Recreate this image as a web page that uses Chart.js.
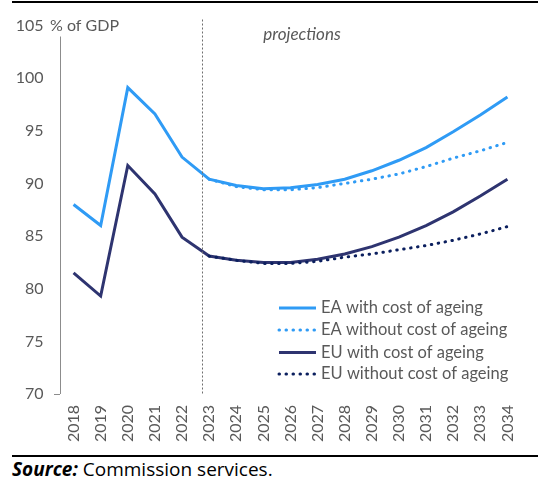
<!DOCTYPE html>
<html>
<head>
<meta charset="utf-8">
<script src="https://cdn.jsdelivr.net/npm/chart.js@4"></script>
<style>
  html, body { margin: 0; padding: 0; background: #fff; }
  body { width: 538px; height: 484px; position: relative; overflow: hidden; }
  #topRule { position: absolute; left: 12px; top: 1px; width: 526px; height: 0; border-top: 2px solid #000; }
  #chart { position: absolute; left: 0; top: 0; }
  #bottomRule { position: absolute; left: 12px; top: 455px; width: 526px; height: 0; border-top: 2px solid #000; }
  #source { position: absolute; left: 12px; top: 456px; font-family: "Open Sans", sans-serif; font-size: 19px; color: #000; white-space: nowrap; }
  #source b { font-style: italic; font-weight: 700; }
</style>
</head>
<body>
<div id="topRule"></div>
<canvas id="chart" width="538" height="452"></canvas>
<div id="bottomRule"></div>
<div id="source"><b>Source:</b> Commission services.</div>
<script>
const years = ['2018','2019','2020','2021','2022','2023','2024','2025','2026','2027','2028','2029','2030','2031','2032','2033','2034'];
const eaWithAgeing    = [88.0, 86.0, 99.1, 96.6, 92.5, 90.4, 89.8, 89.5, 89.6, 89.9, 90.4, 91.2, 92.2, 93.4, 94.9, 96.5, 98.2];
const eaWithoutAgeing = [null, null, null, null, null, 90.4, 89.7, 89.4, 89.4, 89.6, 90.0, 90.4, 90.9, 91.6, 92.4, 93.1, 93.9];
const euWithAgeing    = [81.5, 79.3, 91.7, 89.0, 84.9, 83.1, 82.7, 82.5, 82.5, 82.8, 83.3, 84.0, 84.9, 86.0, 87.3, 88.8, 90.4];
const euWithoutAgeing = [null, null, null, null, null, 83.1, 82.7, 82.4, 82.4, 82.6, 83.0, 83.3, 83.7, 84.1, 84.6, 85.2, 85.9];
const seriesLabels = ['EA with cost of ageing', 'EA without cost of ageing', 'EU with cost of ageing', 'EU without cost of ageing'];
const yTicks = [70, 75, 80, 85, 90, 95, 100, 105];
const projectionStart = 4.75; // category index position of the projections divider

const FONT = 'Lato, "Open Sans", sans-serif';
const GREY_TEXT = '#595959';
const EA_COL = '#2F9BF5';
const EU_COL = '#2E3470';
const EU_DOT = '#0B1F5E';
const DOT = [0.5, 6.5];

const overlay = {
  id: 'overlay',
  afterDraw(chart) {
    const ctx = chart.ctx;
    const ca = chart.chartArea;
    const x = chart.scales.x, y = chart.scales.y;
    ctx.save();
    // y axis line
    ctx.strokeStyle = '#8C8C8C';
    ctx.lineWidth = 1;
    ctx.beginPath();
    ctx.moveTo(ca.left + 0.5, ca.top + 11);
    ctx.lineTo(ca.left + 0.5, ca.bottom);
    ctx.stroke();
    // projections divider
    const px = Math.round(x.getPixelForValue(projectionStart)) + 0.5;
    ctx.strokeStyle = '#6E6E6E';
    ctx.setLineDash([2, 2]);
    ctx.beginPath();
    ctx.moveTo(px, ca.top - 6);
    ctx.lineTo(px, ca.bottom);
    ctx.stroke();
    ctx.setLineDash([]);
    // texts
    ctx.fillStyle = GREY_TEXT;
    ctx.font = 'italic 17px ' + FONT;
    ctx.textAlign = 'center';
    ctx.textBaseline = 'middle';
    ctx.fillText('projections', 302, 35);
    ctx.font = '16px ' + FONT;
    ctx.textAlign = 'left';
    ctx.fillText('% of GDP', 50, y.getPixelForValue(105));
    // legend
    const rows = [308, 330, 352.5, 374];
    chart.data.datasets.forEach((ds, i) => {
      const ry = rows[i];
      ctx.strokeStyle = ds.borderColor;
      ctx.lineWidth = ds.borderWidth;
      ctx.lineCap = ds.borderDash ? 'round' : 'butt';
      ctx.setLineDash(ds.borderDash || []);
      ctx.beginPath();
      ctx.moveTo(279, ry);
      ctx.lineTo(316, ry);
      ctx.stroke();
      ctx.setLineDash([]);
      ctx.fillStyle = GREY_TEXT;
      ctx.font = '16.5px ' + FONT;
      ctx.textAlign = 'left';
      ctx.textBaseline = 'middle';
      ctx.fillText(ds.label, 321, ry);
    });
    ctx.restore();
  }
};

new Chart(document.getElementById('chart'), {
  type: 'line',
  data: {
    labels: years,
    datasets: [
      { label: seriesLabels[0], data: eaWithAgeing, borderColor: EA_COL, borderWidth: 3, order: 1 },
      { label: seriesLabels[1], data: eaWithoutAgeing, borderColor: EA_COL, borderWidth: 3, borderDash: DOT, borderCapStyle: 'round', order: 0 },
      { label: seriesLabels[2], data: euWithAgeing, borderColor: EU_COL, borderWidth: 3, order: 1 },
      { label: seriesLabels[3], data: euWithoutAgeing, borderColor: EU_DOT, borderWidth: 3, borderDash: DOT, borderCapStyle: 'round', order: 0 }
    ]
  },
  options: {
    responsive: false,
    animation: false,
    devicePixelRatio: 1,
    layout: { padding: { left: 0, top: 25.5, right: 13, bottom: 0 } },
    elements: { point: { radius: 0, hoverRadius: 0 }, line: { tension: 0, fill: false } },
    plugins: { legend: { display: false }, tooltip: { enabled: false } },
    scales: {
      x: {
        offset: true,
        grid: { display: false, drawTicks: false, offset: true },
        border: { display: false },
        ticks: {
          autoSkip: false, maxRotation: 90, minRotation: 90, padding: 11,
          color: GREY_TEXT, font: { family: FONT, size: 16 }
        },
        afterFit(s) { s.height = 58; }
      },
      y: {
        min: 70, max: 105,
        afterBuildTicks(s) { s.ticks = yTicks.map(v => ({ value: v })); },
        grid: {
          drawOnChartArea: false, drawTicks: true, tickLength: 6,
          tickColor: c => (c.tick && c.tick.value === 70) ? '#8C8C8C' : 'rgba(0,0,0,0)'
        },
        border: { display: false },
        ticks: { padding: 10.5, color: GREY_TEXT, font: { family: FONT, size: 16 } },
        afterFit(s) { s.width = 60; }
      }
    }
  },
  plugins: [overlay]
});
</script>
</body>
</html>
